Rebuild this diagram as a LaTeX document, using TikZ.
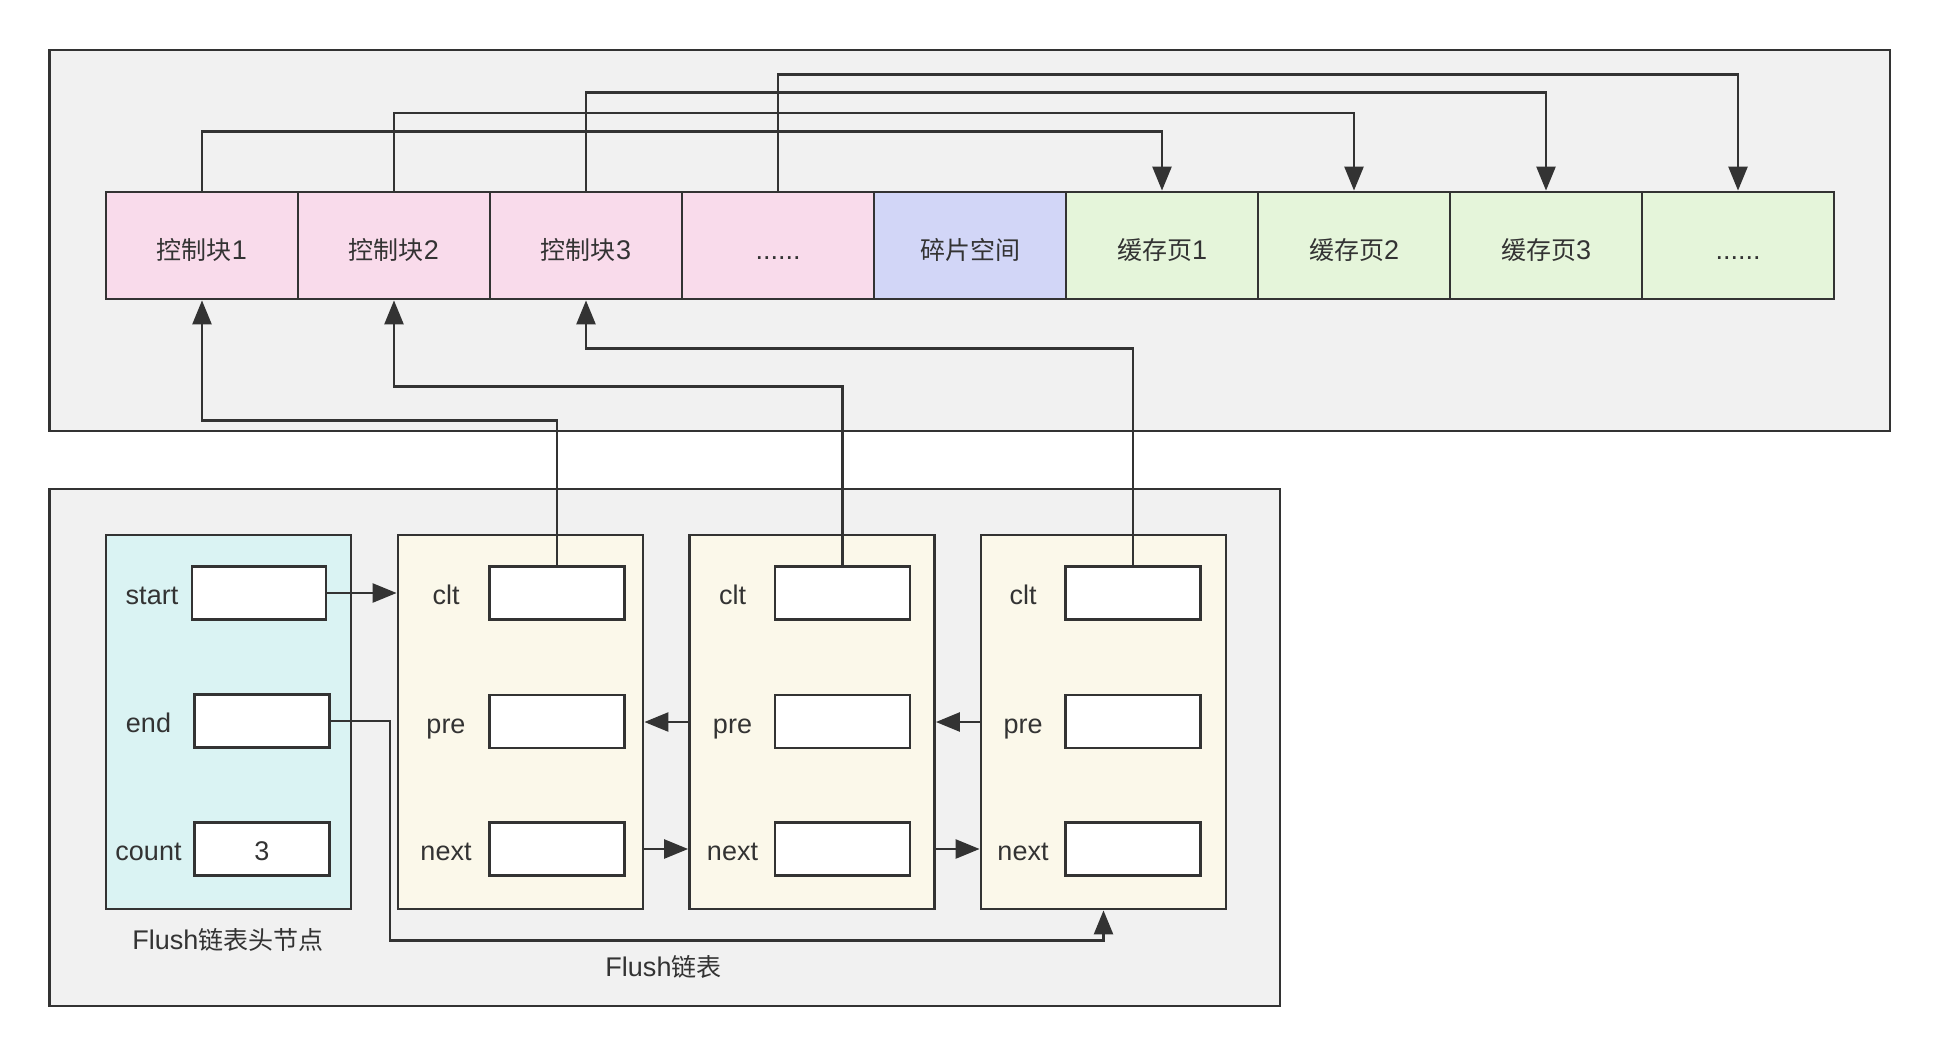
\documentclass[tikz,border=0pt]{standalone}
\usepackage{fontspec}
\setmainfont{Liberation Sans}[Scale=1.08]
\newfontfamily\cjkf{Noto Sans CJK SC}
\usetikzlibrary{arrows.meta}
\definecolor{linec}{RGB}{51,51,51}
\definecolor{txtc}{RGB}{51,51,51}
\definecolor{bgc}{RGB}{241,241,241}
\definecolor{pinkc}{RGB}{249,219,235}
\definecolor{bluec}{RGB}{210,214,247}
\definecolor{greenc}{RGB}{229,245,218}
\definecolor{cyanc}{RGB}{218,243,243}
\definecolor{creamc}{RGB}{251,248,234}
\newcommand\zhtxt[1]{{\cjkf #1}}
\tikzset{
  outerbox/.style={draw=linec, fill=bgc, line width=2.8pt},
  cellbox/.style={draw=linec, line width=2.8pt, minimum width=192pt, minimum height=107pt,
     inner sep=0pt, text=txtc, font=\fontsize{25pt}{30pt}\selectfont, text height=27pt, text depth=0pt},
  nodebox/.style={draw=linec, line width=2.8pt, minimum width=245pt, minimum height=374pt, inner sep=0pt},
  fieldbox/.style={draw=linec, fill=white, line width=2.8pt, minimum width=135pt, minimum height=53pt,
     inner sep=0pt, text=txtc, font=\fontsize{25pt}{30pt}\selectfont, text height=25pt, text depth=2pt},
  lbl/.style={anchor=base, inner sep=0pt, text=txtc, font=\fontsize{25pt}{30pt}\selectfont},
  arr/.style={draw=linec, line width=2.5pt, -{Triangle[length=24pt,width=19pt]}},
}
\begin{document}
\begin{tikzpicture}[x=1pt,y=-1pt]
\useasboundingbox[fill=white] (0,0) rectangle (1940,1057);
% outer panels
\draw[outerbox] (49.5,50) rectangle (1890,431);
\draw[outerbox] (49.5,489) rectangle (1280,1006);

% top memory row
\node[cellbox, fill=pinkc] (c1) at (202,245.5) {\zhtxt{控制块}1};
\node[cellbox, fill=pinkc] (c2) at (394,245.5) {\zhtxt{控制块}2};
\node[cellbox, fill=pinkc] (c3) at (586,245.5) {\zhtxt{控制块}3};
\node[cellbox, fill=pinkc] (c4) at (778,245.5) {......};
\node[cellbox, fill=bluec] (fr) at (970,245.5) {\zhtxt{碎片空间}};
\node[cellbox, fill=greenc] (p1) at (1162,245.5) {\zhtxt{缓存页}1};
\node[cellbox, fill=greenc] (p2) at (1354,245.5) {\zhtxt{缓存页}2};
\node[cellbox, fill=greenc] (p3) at (1546,245.5) {\zhtxt{缓存页}3};
\node[cellbox, fill=greenc] (p4) at (1738,245.5) {......};

% control block -> cache page
\draw[arr] (c1.north) -- ([yshift=59pt]c1.north) -| (p1.north);
\draw[arr] (c2.north) -- ([yshift=77.5pt]c2.north) -| (p2.north);
\draw[arr] (c3.north) -- ([yshift=98pt]c3.north) -| (p3.north);
\draw[arr] (c4.north) -- ([yshift=116pt]c4.north) -| (p4.north);

% bottom: header node and list nodes
\node[nodebox, fill=cyanc] (hd) at (228.5,722) {};
\node[nodebox, fill=creamc] (n1) at (520.5,722) {};
\node[nodebox, fill=creamc] (n2) at (812,722) {};
\node[nodebox, fill=creamc] (n3) at (1103.5,722) {};

\node[fieldbox, minimum width=134pt] (sF) at (259,593) {};
\node[fieldbox] (eF) at (262,721) {};
\node[fieldbox] (cF) at (262,849) {3};
\node[lbl] (ls) at (152,604) {start};
\node[lbl] (le) at (148.5,732.5) {end};
\node[lbl] (lc) at (148.5,860.5) {count};

\node[fieldbox] (n1c) at (557,593) {};
\node[fieldbox] (n1p) at (557,721.5) {};
\node[fieldbox] (n1n) at (557,849) {};
\node[lbl] (l1c) at (446,604.5) {clt};
\node[lbl] (l1p) at (446,733) {pre};
\node[lbl] (l1n) at (446,860.5) {next};

\node[fieldbox] (n2c) at (842.5,593) {};
\node[fieldbox] (n2p) at (842.5,721.5) {};
\node[fieldbox] (n2n) at (842.5,849) {};
\node[lbl] (l2c) at (732.5,604.5) {clt};
\node[lbl] (l2p) at (732.5,733) {pre};
\node[lbl] (l2n) at (732.5,860.5) {next};

\node[fieldbox] (n3c) at (1133,593) {};
\node[fieldbox] (n3p) at (1133,721.5) {};
\node[fieldbox] (n3n) at (1133,849) {};
\node[lbl] (l3c) at (1023,604.5) {clt};
\node[lbl] (l3p) at (1023,733) {pre};
\node[lbl] (l3n) at (1023,860.5) {next};

\node[lbl] (cap1) at (228,949.5) {Flush\zhtxt{链表头节点}};
\node[lbl] (cap2) at (663.5,976.5) {Flush\zhtxt{链表}};

% list links
\draw[arr] (sF.east) -- (sF.east -| n1.west);
\draw[arr] (n2.west) -- (n1.east);
\draw[arr] (n3.west) -- (n2.east);
\draw[arr] (n1.east |- n1n) -- (n2.west |- n1n);
\draw[arr] (n2.east |- n2n) -- (n3.west |- n2n);
\draw[arr] (eF.east) -- ++(59,0) |- ([yshift=-30pt]n3.south) -- (n3.south);

% clt -> control blocks
\draw[arr] (n1c.north) |- ([yshift=-120pt]c1.south) -- (c1.south);
\draw[arr] (n2c.north) |- ([yshift=-86pt]c2.south) -- (c2.south);
\draw[arr] (n3c.north) |- ([yshift=-48pt]c3.south) -- (c3.south);
\end{tikzpicture}
\end{document}
